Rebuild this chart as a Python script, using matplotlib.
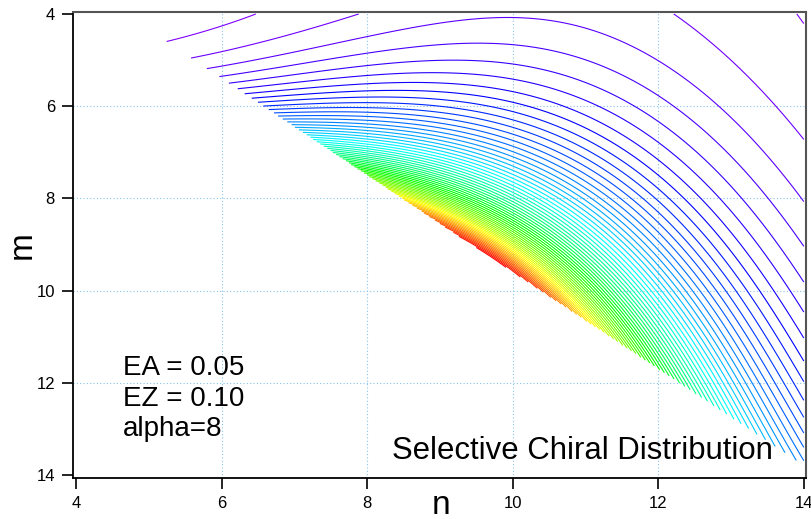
import numpy as np
import matplotlib
matplotlib.use("Agg")
import matplotlib.pyplot as plt
from matplotlib.colors import LinearSegmentedColormap, hsv_to_rgb

plt.rcParams['font.family'] = ['Liberation Sans', 'DejaVu Sans']

# Log-density surface: cubic polynomial in scaled tube diameter d and
# chiral-angle offset t from armchair (30 degrees)
surface_coef = np.array([4.3135, 0.6346, -1.4377, -3.0108, 0.4894, -0.7771,
                         0.3398, -0.0203, 0.1499, -0.1785])
# tubes kept where m <= edge_slope * n + edge_offset
edge_slope, edge_offset = 1.05, -0.9

n_range = (4.0, 14.0)
m_range = (4.0, 14.0)
n_ticks = [4, 6, 8, 10, 12, 14]
m_ticks = [4, 6, 8, 10, 12, 14]
grid_at = [6, 8, 10, 12]
note_lines = ['EA = 0.05', 'EZ = 0.10', 'alpha=8']
title_text = 'Selective Chiral Distribution'


def log_density(n, m):
    D = np.sqrt(n * n + n * m + m * m)
    theta = np.degrees(np.arctan2(np.sqrt(3) * m, 2 * n + m))
    d = (D - 15) / 5
    t = (30 - theta) / 10
    terms = np.stack([np.ones_like(n), d, d * d, t, t * t, d * t,
                      d ** 3, t ** 3, d * d * t, d * t * t], -1)
    return terms @ surface_coef


n_axis = np.linspace(*n_range, 801)
m_axis = np.linspace(*m_range, 801)
N, M = np.meshgrid(n_axis, m_axis)
Z = np.exp(log_density(N, M))
Z[M > edge_slope * N + edge_offset] = np.nan
levels = np.arange(1, int(np.nanmax(Z)) + 1)

# violet -> blue -> cyan -> green -> yellow -> red
hues = np.linspace(0.75, 0.0, 256)
rainbow = LinearSegmentedColormap.from_list(
    'rainbow_hue',
    hsv_to_rgb(np.stack([hues, np.ones_like(hues), np.ones_like(hues)], -1)))

fig = plt.figure(figsize=(8.11, 5.19), dpi=100)
ax = fig.add_axes([73 / 811, 1 - 478 / 519, (806 - 73) / 811, (478 - 12) / 519])
ax.contour(N, M, Z, levels=levels, cmap=rainbow, linewidths=0.8,
           vmin=levels[0], vmax=levels[-1])

ax.set_xlim(3.959, 14.03)
ax.set_ylim(14.065, 3.957)
ax.set_xticks(n_ticks)
ax.set_yticks(m_ticks)
for v in grid_at:
    ax.axvline(v, color='#86c4ea', lw=0.8, ls=(0, (1, 2)), zorder=0)
    ax.axhline(v, color='#86c4ea', lw=0.8, ls=(0, (1, 2)), zorder=0)
for s in ('left', 'bottom'):
    ax.spines[s].set_linewidth(1.3)
    ax.spines[s].set_color('black')
for s in ('top', 'right'):
    ax.spines[s].set_linewidth(1.5)
    ax.spines[s].set_color('#555555')
ax.tick_params(direction='out', length=8, width=1.2, labelsize=12, pad=5,
               top=False, right=False)

fig.text(441 / 811, 1 - 514 / 519, 'n', fontsize=24, ha='center', va='baseline')
fig.text(22 / 811, 1 - 245 / 519, 'm', fontsize=24, rotation=90,
         ha='center', va='center')
for txt, yb in zip(note_lines, (375, 405.7, 436)):
    fig.text(123 / 811, 1 - yb / 519, txt, fontsize=20, ha='left', va='baseline')
fig.text(392 / 811, 1 - 459 / 519, title_text, fontsize=22.4,
         ha='left', va='baseline')

fig.savefig('out.png', dpi=100)
